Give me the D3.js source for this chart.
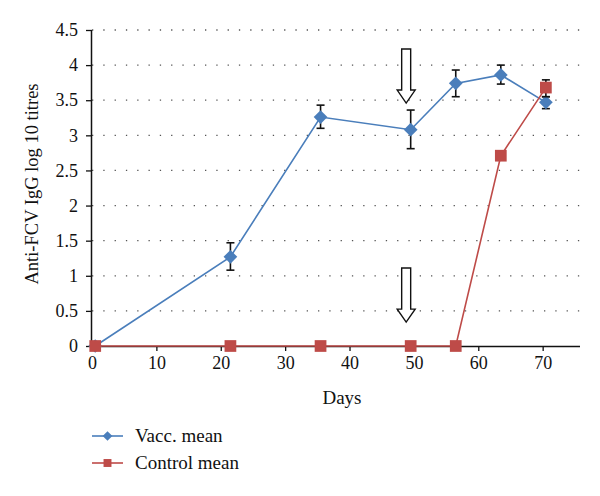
<!DOCTYPE html>
<html>
<head>
<meta charset="utf-8">
<script src="https://cdn.jsdelivr.net/npm/d3@7"></script>
<style>
  body { margin: 0; background: #fff; }
  svg text { font-family: "Liberation Serif", "DejaVu Serif", serif !important; fill: #111; }
</style>
</head>
<body>
<script>
// data
let days = [0.5, 21.5, 35.5, 49.5, 56.5, 63.5, 70.5];
let vaccMean = [0, 1.27, 3.26, 3.08, 3.74, 3.86, 3.47];
let vaccLow  = [0, 1.08, 3.10, 2.81, 3.55, 3.73, 3.38];
let vaccHigh = [0, 1.47, 3.43, 3.36, 3.93, 4.00, 3.55];
let ctrlMean = [0, 0, 0, 0, 0, 2.71, 3.68];
let ctrlLow  = [0, 0, 0, 0, 0, 2.71, 3.55];
let ctrlHigh = [0, 0, 0, 0, 0, 2.71, 3.79];
let xTicks = [0, 10, 20, 30, 40, 50, 60, 70];
let yTicks = [0, 0.5, 1, 1.5, 2, 2.5, 3, 3.5, 4, 4.5];
// arrows: day, top value, tip value
let arrowDay = [48.8, 48.8];
let arrowTop = [4.23, 1.11];
let arrowTip = [3.46, 0.34];

let margin = {top: 30, right: 20, bottom: 150, left: 92},
    width = 580 - margin.left,
    height = 346 - margin.top;

let blue = "#4a7ebb", red = "#be4b48";

let x = d3.scaleLinear().domain([0, 75.8]).range([0, width]);
let y = d3.scaleLinear().domain([0, 4.5]).range([height, 0]);

let svg = d3.select("body").append("svg")
    .attr("width", 600)
    .attr("height", 496);
let g = svg.append("g")
    .attr("transform", "translate(" + margin.left + "," + margin.top + ")");

// dotted grid
g.selectAll(".grid")
  .data(yTicks.filter(d => d > 0))
  .enter().append("line")
  .attr("x1", 0).attr("x2", width)
  .attr("y1", d => y(d)).attr("y2", d => y(d))
  .attr("stroke", "#555")
  .attr("stroke-width", 1.3)
  .attr("stroke-dasharray", "1.3,10");

// axes
let yAxis = g.append("g")
  .call(d3.axisLeft(y).tickValues(yTicks).tickSize(6).tickPadding(8).tickFormat(d3.format("")));
let xAxis = g.append("g")
  .attr("transform", "translate(0," + height + ")")
  .call(d3.axisBottom(x).tickValues(xTicks).tickSize(5).tickPadding(5));
[xAxis, yAxis].forEach(a => {
  a.attr("font-family", null);
  a.select(".domain").attr("stroke", "#111").attr("stroke-width", 1.5);
  a.selectAll(".tick line").attr("stroke", "#111").attr("stroke-width", 1.3);
  a.selectAll("text").style("font-size", "18px").attr("fill", "#111");
});
yAxis.select(".domain").attr("d", "M-0.5," + height + "V0");
xAxis.select(".domain").attr("d", "M0,0.5H" + width);
xAxis.selectAll(".tick line").attr("y1", 1);

// axis titles
svg.append("text")
  .attr("transform", "translate(38,184) rotate(-90)")
  .attr("text-anchor", "middle")
  .style("font-size", "18.5px")
  .text("Anti-FCV IgG log 10 titres");
svg.append("text")
  .attr("x", 342).attr("y", 404)
  .attr("text-anchor", "middle")
  .style("font-size", "19px")
  .text("Days");

// arrows
arrowDay.forEach((d, i) => {
  let cx = x(d), yt = y(arrowTop[i]), yp = y(arrowTip[i]);
  let hh = 13, sw = 4.5, hw = 9;
  let p = "M" + (cx - sw) + "," + yt + "H" + (cx + sw) + "V" + (yp - hh) +
          "H" + (cx + hw) + "L" + cx + "," + yp + "L" + (cx - hw) + "," + (yp - hh) +
          "H" + (cx - sw) + "Z";
  g.append("path").attr("d", p).attr("fill", "#fff").attr("stroke", "#111").attr("stroke-width", 1.4);
});

let line = d3.line().x(d => x(d[0])).y(d => y(d[1]));
let diamond = d3.symbol().type(d3.symbolDiamond2);
let square = d3.symbol().type(d3.symbolSquare2);

function errBars(lows, highs) {
  days.forEach((d, i) => {
    if (highs[i] === lows[i]) return;
    let cx = x(d);
    g.append("line").attr("x1", cx).attr("x2", cx)
      .attr("y1", y(lows[i])).attr("y2", y(highs[i]))
      .attr("stroke", "#111").attr("stroke-width", 1.6);
    [lows[i], highs[i]].forEach(v => {
      g.append("line").attr("x1", cx - 4).attr("x2", cx + 4)
        .attr("y1", y(v)).attr("y2", y(v))
        .attr("stroke", "#111").attr("stroke-width", 1.6);
    });
  });
}

// vaccinated series
errBars(vaccLow, vaccHigh);
g.append("path")
  .datum(days.map((d, i) => [d, vaccMean[i]]))
  .attr("d", line).attr("fill", "none").attr("stroke", blue).attr("stroke-width", 1.6);
g.selectAll(".vacc")
  .data(days.map((d, i) => [d, vaccMean[i]]))
  .enter().append("path")
  .attr("transform", d => "translate(" + x(d[0]) + "," + y(d[1]) + ")")
  .attr("d", diamond.size(120))
  .attr("fill", blue);

// control series
errBars(ctrlLow, ctrlHigh);
g.append("path")
  .datum(days.map((d, i) => [d, ctrlMean[i]]))
  .attr("d", line).attr("fill", "none").attr("stroke", red).attr("stroke-width", 1.6);
g.selectAll(".ctrl")
  .data(days.map((d, i) => [d, ctrlMean[i]]))
  .enter().append("path")
  .attr("transform", d => "translate(" + x(d[0]) + "," + y(d[1]) + ")")
  .attr("d", square.size(175))
  .attr("fill", red);

// legend
let legend = [["Vacc. mean", blue, diamond.size(60)], ["Control mean", red, square.size(80)]];
legend.forEach((l, i) => {
  let ly = 436 + i * 27;
  svg.append("line").attr("x1", 92).attr("x2", 123).attr("y1", ly).attr("y2", ly)
    .attr("stroke", l[1]).attr("stroke-width", 1.6);
  svg.append("path").attr("transform", "translate(107.5," + ly + ")")
    .attr("d", l[2]).attr("fill", l[1]);
  svg.append("text").attr("x", 135).attr("y", ly + 6)
    .style("font-size", "19px").text(l[0]);
});
</script>
</body>
</html>
